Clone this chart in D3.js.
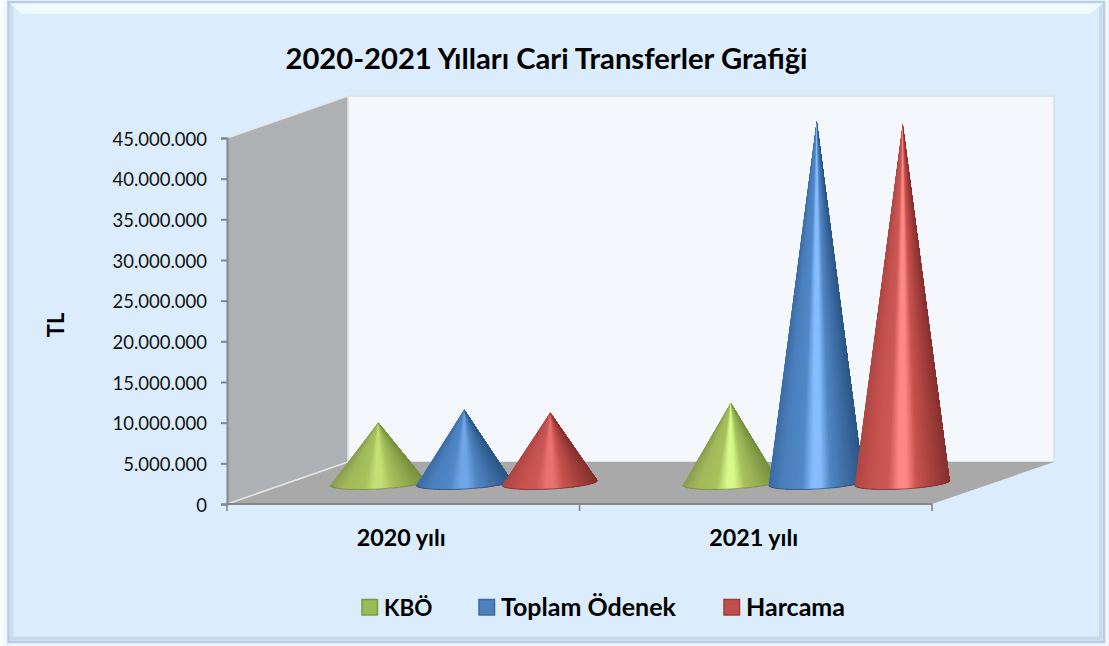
<!DOCTYPE html>
<html><head><meta charset="utf-8">
<script src="https://cdn.jsdelivr.net/npm/d3@7/dist/d3.min.js"></script>
<style>html,body{margin:0;padding:0;background:#f1f7fe}svg{display:block}text{font-family:Lato,"Noto Sans",sans-serif;fill:#000}</style>
</head><body><svg id="c" width="1109" height="646"></svg>
<script>
const chartTitle="2020-2021 Yılları Cari Transferler Grafiği";
const axisTitle="TL";
const categories=["2020 yılı","2021 yılı"];
const seriesNames=["KBÖ","Toplam Ödenek","Harcama"];
const kboValues=[7400000,9850000];
const toplamValues=[9000000,44500000];
const harcamaValues=[8650000,44100000];
const yTicks=[0,5e6,10e6,15e6,20e6,25e6,30e6,35e6,40e6,45e6];
const allValues=[kboValues,toplamValues,harcamaValues];
const coneStops=[
 ["#8a9f50","#a0b95a","#a8c25e","#d9f98a","#d9f98a","#a8c25e","#93ab50","#76903f"],
 ["#3d6ca6","#4a7fbc","#5289c8","#86bdff","#86bdff","#5086c2","#3f6ea6","#2c5686"],
 ["#ad4744","#c2504d","#cb5a57","#ff8886","#ff8886","#c8534f","#a8423f","#86302e"]];
const highlightStrength=[0.55,1];
const legendFill=["#9bbb59","#4f81bd","#c0504d"];
const legendEdge=["#7d9a45","#3c6a9f","#9d3c39"];

const svg=d3.select("#c");
const defs=svg.append("defs");
defs.append("filter").attr("id","soft").attr("x","-10%").attr("y","-10%").attr("width","120%").attr("height","120%")
 .append("feGaussianBlur").attr("stdDeviation",0.45);
const edgeGrad=defs.append("linearGradient").attr("id","outer").attr("x1",0).attr("x2",1).attr("y1",0).attr("y2",0);
edgeGrad.append("stop").attr("offset",0).attr("stop-color","#ffffff");
edgeGrad.append("stop").attr("offset",1).attr("stop-color","#e6f1fc");
svg.append("rect").attr("width",9).attr("height",646).attr("fill","url(#outer)");
// frame
svg.append("rect").attr("x",8.5).attr("y",2).attr("width",1095.5).attr("height",640).attr("fill","#dbedfd").attr("stroke","#b9cde6").attr("stroke-width",2.5);
svg.append("path").attr("d",`M10,3.5H1102.5L1090,14H22Z`).attr("fill","#eefaff");
svg.append("path").attr("d",`M10,3.5V640.5L13.5,637V7Z`).attr("fill","#c9def3");
svg.append("path").attr("d",`M1102.5,3.5V640.5L1099,637V7Z`).attr("fill","#c8daee");
svg.append("path").attr("d",`M10,640.5H1102.5L1099,636.5H13.5Z`).attr("fill","#c9d9ea");

// scales
const y=d3.scaleLinear().domain([0,45e6]).range([504,138]);
const x0=d3.scaleBand().domain(categories).range([227,932]);
const x1=d3.scalePoint().domain(seriesNames).range([-86,86]);
const depthX=121,depthY=-42;

// walls
const line=d3.line();
const xL=x0.range()[0],xR=x0.range()[1];
const yB=y(0),yT=y(45e6);
svg.append("path").attr("d",line([[xL+depthX,yT+depthY],[xR+depthX+1,yT+depthY],[xR+depthX+1,yB+depthY],[xL+depthX,yB+depthY]])+"Z").attr("fill","#f4f8fd").attr("stroke","#dfe4e8").attr("stroke-width",2);
svg.append("path").attr("d",line([[xL,yT],[xL+depthX,yT+depthY],[xL+depthX,yB+depthY],[xL,yB]])+"Z").attr("fill","#aeb1b4");
svg.append("path").attr("d",line([[xL,yB],[xL+depthX,yB+depthY],[xR+depthX+1,yB+depthY],[xR,yB]])+"Z").attr("fill","#a9a9a9");
svg.append("path").attr("d",line([[xL,yT],[xL+depthX,yT+depthY],[xL+depthX,yB+depthY],[xL,yB]])).attr("fill","none").attr("stroke","#e3e6e8").attr("stroke-width",1.5);

// axes
const yAxis=d3.axisLeft(y).tickValues(yTicks).tickSize(6).tickPadding(14).tickFormat(d=>d3.format(",")(d).replace(/,/g,"."));
const gy=svg.append("g").attr("transform",`translate(${xL},0)`).call(yAxis);
gy.selectAll("text").style("font-size","18.5px").style("fill","#111").attr("dy","0.38em");
gy.selectAll("line,path").attr("stroke","#868686").attr("stroke-width",2);
const xTickVals=[xL,xL+x0.step(),xL+2*x0.step()];
const xAxisG=svg.append("g");
xAxisG.selectAll("line.t").data(xTickVals).join("line").attr("x1",d=>d).attr("x2",d=>d).attr("y1",yB).attr("y2",yB+7).attr("stroke","#868686").attr("stroke-width",1.6);
xAxisG.append("line").attr("x1",xL).attr("x2",xR).attr("y1",yB).attr("y2",yB).attr("stroke","#868686").attr("stroke-width",2);
xAxisG.selectAll("text").data(categories).join("text")
 .attr("x",d=>x0(d)+x0.bandwidth()/2-2).attr("y",546).attr("text-anchor","middle")
 .style("font-size","23.3px").style("font-weight",700).text(d=>d);

// cones
const baseY=y(0)+depthY/2;
const stopAt=[-1,-.72,-.3,-.08,.08,.3,.62,1];
function cone(g,cx,tipY,stops,rx,strength){
  const ry=6,rot=-3*Math.PI/180,n=80;
  const adj=stops.map((s,i)=>(i===3||i===4)?d3.interpolateRgb(stops[2],s)(strength):s);
  const color=d3.scaleLinear().domain(stopAt).range(adj);
  const tipX=cx+.5;
  const pt=t=>{const a=rx*Math.cos(t),b=ry*Math.sin(t);return [cx+a*Math.cos(rot)-b*Math.sin(rot),baseY+a*Math.sin(rot)+b*Math.cos(rot)];};
  const start=Math.PI+0.05,end=-0.05;
  const arc=d3.range(n+1).map(i=>start+(end-start)*i/n);
  // Painter's order: each layer covers the remaining arc so that no seam shows between slices.
  d3.range(n).forEach(i=>{
    const pts=[[tipX,tipY],...arc.slice(i).map(pt)];
    const c=color((Math.cos(arc[i])+Math.cos(arc[i+1]))/2);
    g.append("path").attr("d",line(pts)+"Z").attr("fill",c);
  });
  // darker rim along the base
  g.append("path").attr("d",line(arc.map(pt))).attr("fill","none").attr("stroke",d3.color(stops[7]).darker(.3)).attr("stroke-width",.9).attr("stroke-opacity",.8);
}
const coneLayer=svg.append("g").attr("filter","url(#soft)");
categories.forEach((cat,ci)=>{
  seriesNames.forEach((s,si)=>{
    const cx=x0(cat)+x0.bandwidth()/2+depthX/2+x1(s);
    cone(coneLayer.append("g"),cx,y(allValues[si][ci])+depthY/2,coneStops[si],47.5,highlightStrength[ci]);
  });
});

// titles
svg.append("text").attr("x",546.5).attr("y",69).attr("text-anchor","middle").style("font-size","29.2px").style("font-weight",700).text(chartTitle);
svg.append("text").attr("transform","translate(64,325) rotate(-90)").attr("text-anchor","middle").style("font-size","22px").style("font-weight",700).text(axisTitle);

// legend
const legendX=[362,479,724];
const leg=svg.selectAll("g.l").data(seriesNames).join("g").attr("transform",(d,i)=>`translate(${legendX[i]},599.5)`);
leg.append("rect").attr("width",15.5).attr("height",15.5).attr("fill",(d,i)=>legendFill[i]).attr("stroke",(d,i)=>legendEdge[i]).attr("stroke-width",1.5);
leg.append("text").attr("x",22).attr("y",16).style("font-size",(d,i)=>i===0?"22.5px":"25px").style("font-weight",700).text(d=>d);
</script></body></html>
